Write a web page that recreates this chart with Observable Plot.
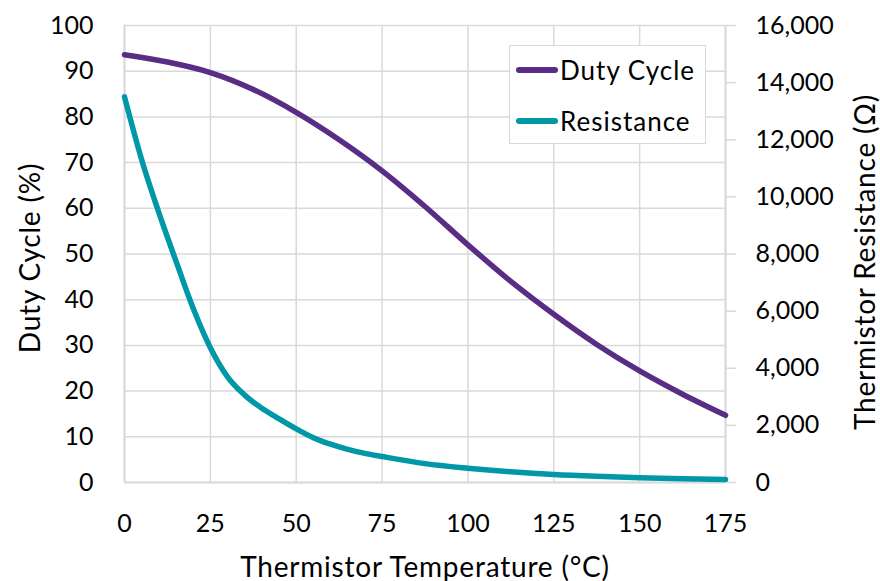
<!DOCTYPE html>
<html>
<head>
<meta charset="utf-8">
<script src="https://cdn.jsdelivr.net/npm/d3@7"></script>
<script src="https://cdn.jsdelivr.net/npm/@observablehq/plot@0.6"></script>
<style>
  html, body { margin: 0; padding: 0; background: #fff; }
  #wrap { position: relative; width: 880px; height: 581px; font-family: Lato, sans-serif; }
  #wrap svg g[aria-label="text"] text { letter-spacing: 0.8px; }
  #legend { position: absolute; left: 509px; top: 45px; width: 197px; height: 99px; border: 1.5px solid #d9d9d9; background: #fff; box-sizing: border-box; }
  .item { position: absolute; left: 6px; height: 30px; line-height: 30px; display: flex; align-items: center; font-size: 26px; letter-spacing: 1px; color: #000; white-space: nowrap; }
  .sw { width: 42px; height: 6px; border-radius: 3px; margin-right: 2px; }
</style>
</head>
<body>
<div id="wrap"></div>
<script>
const temperature = [0, 12.5, 25, 37.5, 50, 62.5, 75, 87.5, 100, 112.5, 125, 137.5, 150, 162.5, 175];
const dutyCycle   = [93.6, 92.0, 89.7, 86.0, 81.0, 75.0, 68.2, 60.4, 52.0, 44.0, 36.8, 30.2, 24.4, 19.3, 14.7];

const resTemp    = [0, 5, 10, 15, 20, 25, 30, 35, 40, 45, 50, 55, 60, 65, 70, 75, 87.5, 100, 112.5, 125, 137.5, 150, 162.5, 175];
const resistance = [13500, 11300, 9450, 7750, 6100, 4720, 3700, 3060, 2600, 2230, 1880, 1570, 1340, 1160, 1020, 910, 660, 500, 375, 280, 215, 165, 130, 105];

const xTicks = [0, 25, 50, 75, 100, 125, 150, 175];
const leftTicks = d3.range(0, 101, 10);
const rightTicks = d3.range(0, 16001, 2000);
const RATIO = 160; // 16,000 Ω on the right axis ↔ 100 % on the left axis

const dutyColor = "#592C85";
const resColor = "#0097A7";

const dutyData = temperature.map((t, i) => ({t, v: dutyCycle[i]}));
const resData = resTemp.map((t, i) => ({t, v: resistance[i] / RATIO}));

const chart = Plot.plot({
  width: 880,
  height: 581,
  marginLeft: 124,
  marginRight: 155,
  marginTop: 25,
  marginBottom: 99,
  style: {fontFamily: "Lato, sans-serif", fontSize: "25px", color: "#000", background: "#fff"},
  x: {domain: [0, 175]},
  y: {domain: [0, 100]},
  marks: [
    Plot.gridX(xTicks, {stroke: "#d9d9d9", strokeOpacity: 1, strokeWidth: 1.5}),
    Plot.gridY(leftTicks, {stroke: "#d9d9d9", strokeOpacity: 1, strokeWidth: 1.5}),
    Plot.axisX(xTicks, {tickSize: 0, tickPadding: 32, fontSize: 25, label: null}),
    Plot.axisY(leftTicks, {anchor: "left", tickSize: 0, tickPadding: 31, fontSize: 25, label: null}),
    Plot.axisY(rightTicks.map(v => v / RATIO), {anchor: "right", tickSize: 10, stroke: "#d9d9d9", strokeWidth: 1.5, tickPadding: 20, fontSize: 25, label: null, tickFormat: d => d3.format(",")(Math.round(d * RATIO))}),
    Plot.ruleY([0], {stroke: "#d9d9d9", strokeWidth: 2}),
    Plot.ruleX([0], {stroke: "#d9d9d9", strokeWidth: 2}),
    Plot.ruleX([175], {stroke: "#d9d9d9", strokeWidth: 2}),
    Plot.line(resData, {x: "t", y: "v", stroke: resColor, strokeWidth: 5.5, curve: "monotone-x"}),
    Plot.line(dutyData, {x: "t", y: "v", stroke: dutyColor, strokeWidth: 5.5, curve: "monotone-x"}),
    Plot.text(["Thermistor Temperature (°C)"], {frameAnchor: "bottom", textAnchor: "middle", dy: 94, fontSize: 28, text: d => d}),
    Plot.text(["Duty Cycle (%)"], {frameAnchor: "left", textAnchor: "middle", dx: -93, dy: 4, rotate: -90, fontSize: 28, text: d => d}),
    Plot.text(["Thermistor Resistance (Ω)"], {frameAnchor: "right", textAnchor: "middle", dx: 141, dy: 8, rotate: -90, fontSize: 28, text: d => d})
  ]
});

const wrap = document.getElementById("wrap");
wrap.appendChild(chart);

const legend = document.createElement("div");
legend.id = "legend";
[["Duty Cycle", dutyColor, 9], ["Resistance", resColor, 60]].forEach(([label, color, top]) => {
  const item = document.createElement("div");
  item.className = "item";
  item.style.top = top + "px";
  const sw = document.createElement("span");
  sw.className = "sw";
  sw.style.background = color;
  const tx = document.createElement("span");
  tx.textContent = label;
  item.appendChild(sw);
  item.appendChild(tx);
  legend.appendChild(item);
});
wrap.appendChild(legend);
</script>
</body>
</html>
